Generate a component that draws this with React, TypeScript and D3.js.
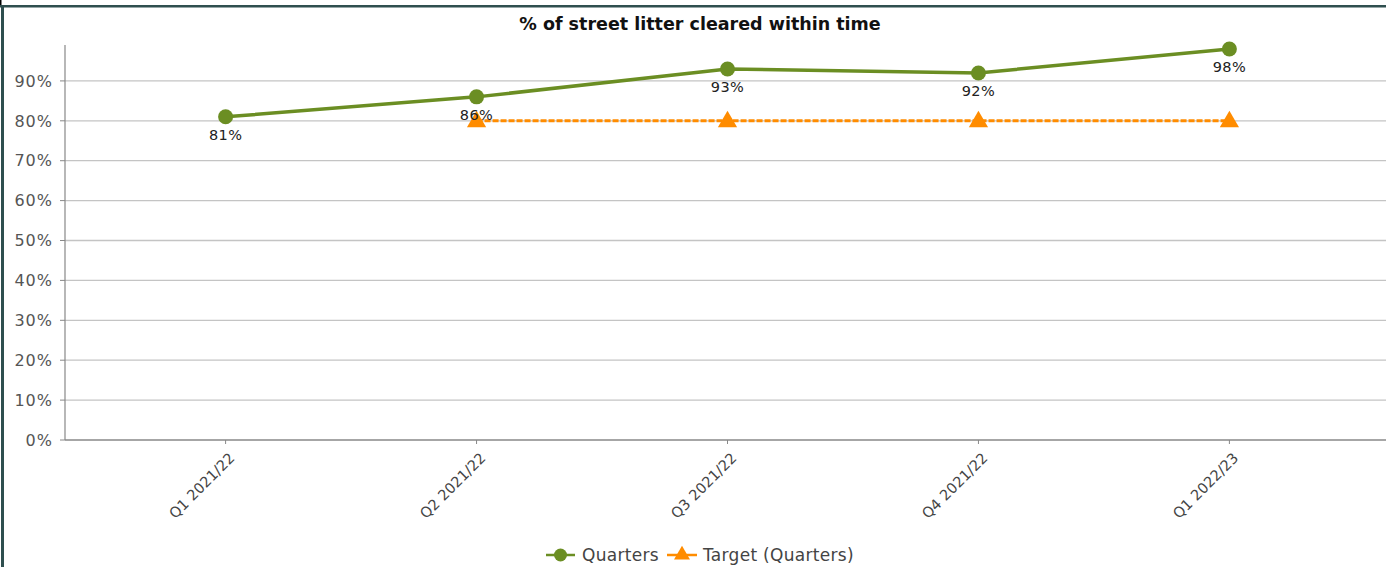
import React from "react";
import * as d3 from "d3";

const categories = ["Q1 2021/22", "Q2 2021/22", "Q3 2021/22", "Q4 2021/22", "Q1 2022/23"];
const quarters = [81, 86, 93, 92, 98];
const target = [null, 80, 80, 80, 80];
const yTicks = [0, 10, 20, 30, 40, 50, 60, 70, 80, 90];
const title = "% of street litter cleared within time";
const seriesNames = ["Quarters", "Target (Quarters)"];

const W = 1386;
const H = 567;
const left = 65;
const right = 1390;
const top = 45;
const bottom = 440;
const green = "#6b8e23";
const orange = "#ff8c00";
const font = "'DejaVu Sans', Verdana, sans-serif";

export default function App() {
  const x = d3.scalePoint<string>().domain(categories).range([left, right]).padding(0.64);
  const y = d3.scaleLinear().domain([0, 99]).range([bottom, top]);
  const lineQ = d3
    .line<number>()
    .x((_, i) => x(categories[i])!)
    .y((d) => y(d));
  const tPts = target
    .map((v, i) => ({ v, c: categories[i] }))
    .filter((d) => d.v !== null) as { v: number; c: string }[];
  const lineT = d3
    .line<{ v: number; c: string }>()
    .x((d) => x(d.c)!)
    .y((d) => y(d.v));
  const tri = d3.symbol().type(d3.symbolTriangle).size(160)();
  return (
    <svg
      width={W}
      height={H}
      style={{ position: "absolute", left: 0, top: 0, background: "#fff" }}
    >
      <rect x={0} y={0} width={W} height={H} fill="#fff" />
      <rect x={0} y={5} width={W} height={2.5} fill="#2f4f4f" />
      <rect x={1} y={5} width={3} height={H} fill="#2f4f4f" />
      <rect x={0} y={0} width={1.5} height={5} fill="#000" />
      <text
        x={700}
        y={30}
        textAnchor="middle"
        fontFamily={font}
        fontWeight="bold"
        fontSize={17.5}
        fill="#111"
      >
        {title}
      </text>
      {yTicks.map((t) => (
        <g key={t}>
          {t > 0 && (
            <line x1={left} x2={W} y1={y(t)} y2={y(t)} stroke="#c4c4c4" strokeWidth={1.3} />
          )}
          <line x1={left - 5} x2={left} y1={y(t)} y2={y(t)} stroke="#888" strokeWidth={1} />
          <text
            x={53}
            y={y(t)}
            dy="0.36em"
            textAnchor="end"
            fontFamily={font}
            fontSize={16}
            letterSpacing={1}
            fill="#555"
          >
            {t}%
          </text>
        </g>
      ))}
      <line x1={left} x2={left} y1={top} y2={bottom} stroke="#888" strokeWidth={1.2} />
      <line x1={left} x2={W} y1={bottom} y2={bottom} stroke="#888" strokeWidth={1.5} />
      {categories.map((c) => (
        <g key={c}>
          <line x1={x(c)} x2={x(c)} y1={bottom} y2={bottom + 4} stroke="#888" />
          <text
            transform={`translate(${x(c)! + 10},${bottom + 19}) rotate(-45)`}
            textAnchor="end"
            fontFamily={font}
            fontSize={14.5}
            fill="#444"
          >
            {c}
          </text>
        </g>
      ))}
      <path
        d={lineT(tPts)!}
        fill="none"
        stroke={orange}
        strokeWidth={3}
        strokeDasharray="6,2"
      />
      {tPts.map((d) => (
        <path key={d.c} d={tri!} transform={`translate(${x(d.c)},${y(d.v) + 1})`} fill={orange} />
      ))}
      <path d={lineQ(quarters)!} fill="none" stroke={green} strokeWidth={3.5} />
      {quarters.map((v, i) => (
        <g key={i}>
          <circle cx={x(categories[i])} cy={y(v)} r={7.5} fill={green} />
          <text
            x={x(categories[i])}
            y={y(v) + 23}
            textAnchor="middle"
            fontFamily={font}
            fontSize={14.5}
            letterSpacing={0.4}
            fill="#222"
          >
            {v}%
          </text>
        </g>
      ))}
      <g transform="translate(546,555)">
        <line x1={0} x2={29} y1={0} y2={0} stroke={green} strokeWidth={2.5} />
        <circle cx={14.5} cy={0} r={6.5} fill={green} />
        <text x={36} y={0} dy="0.36em" fontFamily={font} fontSize={17} letterSpacing={0.3} fill="#444">
          {seriesNames[0]}
        </text>
        <line x1={121} x2={151} y1={0} y2={0} stroke={orange} strokeWidth={2.5} />
        <path d={d3.symbol().type(d3.symbolTriangle).size(110)()!} transform="translate(136,0)" fill={orange} />
        <text x={157} y={0} dy="0.36em" fontFamily={font} fontSize={17} letterSpacing={0.3} fill="#444">
          {seriesNames[1]}
        </text>
      </g>
    </svg>
  );
}
